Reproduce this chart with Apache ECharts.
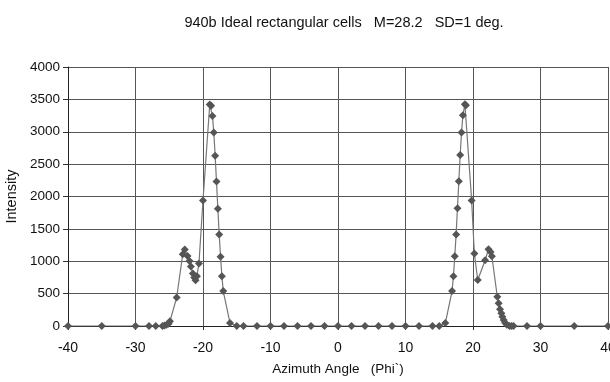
<!DOCTYPE html>
<html><head><meta charset="utf-8">
<script src="https://cdn.jsdelivr.net/npm/echarts@6/dist/echarts.min.js"></script>
<style>html,body{margin:0;padding:0;background:#fff}#c{width:610px;height:382px}</style>
</head><body><div id="c"></div>
<script>
var titleText = '940b Ideal rectangular cells   M=28.2   SD=1 deg.';
var xName = 'Azimuth Angle   (Phi`)';
var yName = 'Intensity';
var angle = [-40,-35,-30,-28,-27,-26,-25.7,-25.4,-25.1,-24.9,-23.9,-23.0,-22.7,-22.3,-22.0,-21.8,-21.5,-21.3,-21.1,-20.9,-20.6,-20.0,-19.0,-18.8,-18.6,-18.4,-18.2,-18.0,-17.8,-17.6,-17.4,-17.2,-17.0,-16.0,-15,-14,-12,-10,-8,-6,-4,-2,0,2,4,6,8,10,12,14,15,15.9,16.9,17.1,17.3,17.5,17.7,17.9,18.1,18.3,18.5,18.8,18.95,19.8,20.2,20.7,21.8,22.3,22.6,22.8,23.6,23.8,24.0,24.2,24.35,24.55,24.75,25.0,25.4,25.7,26,28,30,35,40];
var intensity = [0,0,0,0,0,0,8,18,35,72,440,1110,1180,1080,1005,920,810,750,705,770,965,1940,3420,3400,3245,2990,2630,2230,1810,1415,1070,770,540,45,0,0,0,0,0,0,0,0,0,0,0,0,0,0,0,0,0,45,540,770,1077,1415,1820,2235,2640,2990,3255,3425,3410,1940,1120,710,1015,1185,1143,1077,450,350,257,195,143,92,51,20,0,0,0,0,0,0,0];
var data = angle.map(function(a,i){return [a,intensity[i]];});
var chart = echarts.init(document.getElementById('c'));
var font = '"Liberation Sans", Arial, sans-serif';
chart.setOption({
  animation:false,
  title:{text:titleText,left:339,textAlign:'center',top:10,textStyle:{fontFamily:font,fontSize:14.5,fontWeight:'normal',color:'#111'}},
  grid:{left:68,right:2,top:67,bottom:56,outerBoundsMode:'none',containLabel:false},
  xAxis:{type:'value',min:-40,max:40,interval:10,name:xName,nameLocation:'middle',nameGap:36,
    nameTextStyle:{fontFamily:font,fontSize:13.5,color:'#111'},
    axisLine:{onZero:false,lineStyle:{color:'#222',width:1}},
    axisTick:{show:true,length:4,lineStyle:{color:'#333'}},
    axisLabel:{fontFamily:font,fontSize:14,color:'#111',margin:15,hideOverlap:false},
    splitLine:{show:true,lineStyle:{color:'#555',width:1}}},
  yAxis:{type:'value',min:0,max:4000,interval:500,name:yName,nameLocation:'middle',nameGap:41,
    nameTextStyle:{fontFamily:font,fontSize:14.5,color:'#111'},
    axisLine:{show:true,onZero:false,lineStyle:{color:'#222',width:1}},
    axisTick:{show:true,length:5,lineStyle:{color:'#333'}},
    axisLabel:{fontFamily:font,fontSize:13.5,color:'#111',margin:8,formatter:function(v){return String(v);}},
    splitLine:{show:true,lineStyle:{color:'#555',width:1}}},
  series:[{type:'line',data:data,symbol:'diamond',symbolSize:8,
    lineStyle:{color:'#777',width:1.2},itemStyle:{color:'#555'}}]
});
</script></body></html>
